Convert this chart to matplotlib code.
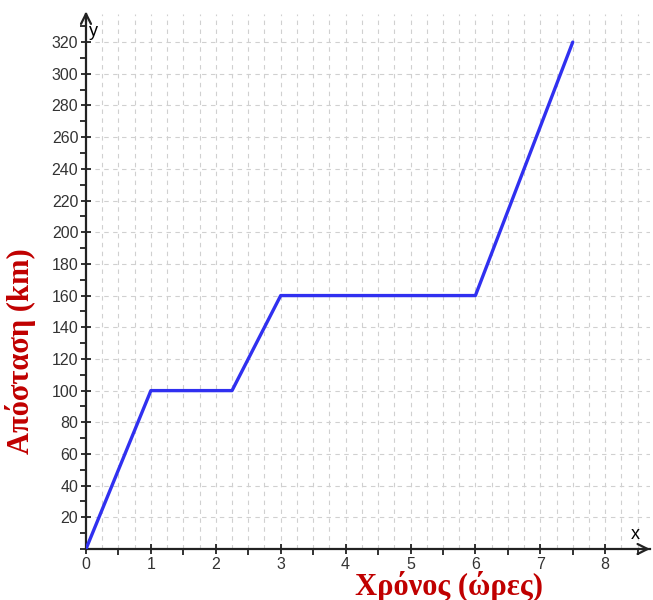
import numpy as np
import matplotlib.pyplot as plt
from matplotlib.ticker import MultipleLocator

# time (hours) and distance (km) at the corners of the trip
hours = [0, 1, 2.25, 3, 6, 7.5]
distance = [0, 100, 100, 160, 160, 320]

x_ticks = [0, 1, 2, 3, 4, 5, 6, 7, 8]
y_ticks = list(range(20, 321, 20))

fig = plt.figure(figsize=(6.53, 6.0), dpi=100)
ax = fig.add_axes([86 / 653, 1 - 549 / 600, (650 - 86) / 653, (549 - 14) / 600])

ax.set_xlim(0, (650 - 86) / 64.9)
ax.set_ylim(0, (549 - 14) / 1.584)

# dashed grid: verticals every quarter hour, horizontals every 20 km
for gx in np.arange(0.25, 8.75, 0.25):
    ax.axvline(gx, color="#d0d0d0", lw=0.8, ls=(0, (4, 4)), zorder=0)
for gy in y_ticks:
    ax.axhline(gy, color="#d0d0d0", lw=0.8, ls=(0, (4, 4)), zorder=0)

ax.plot(hours, distance, color="#3030f0", lw=2.4, solid_capstyle="round", zorder=3)

for side in ["top", "right"]:
    ax.spines[side].set_visible(False)
for side in ["left", "bottom"]:
    ax.spines[side].set_linewidth(1.6)
    ax.spines[side].set_color("#222222")

# arrow heads on the axes
ax.annotate("", xy=(1.005, 0), xytext=(0.98, 0), xycoords="axes fraction",
            arrowprops=dict(arrowstyle="->", lw=1.6, color="#222222", mutation_scale=18),
            annotation_clip=False)
ax.annotate("", xy=(0, 1.01), xytext=(0, 0.98), xycoords="axes fraction",
            arrowprops=dict(arrowstyle="->", lw=1.6, color="#222222", mutation_scale=18),
            annotation_clip=False)
ax.text(8.47, 4, "x", fontsize=13, family="Liberation Sans", va="bottom", ha="center")
ax.text(0.05, 327, "y", fontsize=13, family="Liberation Sans", va="center", ha="left")

ax.set_xticks(x_ticks)
ax.set_xticklabels([str(v) for v in x_ticks])
ax.xaxis.set_minor_locator(MultipleLocator(0.5))
ax.set_yticks(y_ticks)
ax.set_yticklabels([str(v) for v in y_ticks])
ax.yaxis.set_minor_locator(MultipleLocator(10))
ax.tick_params(which="major", direction="inout", length=7, width=1.3, colors="#222222",
               labelsize=11.5, pad=2)
ax.tick_params(which="minor", direction="out", length=4, width=1.3, colors="#222222")
for lab in ax.get_xticklabels() + ax.get_yticklabels():
    lab.set_family("Liberation Sans")
    lab.set_color("#333333")

fig.text(449 / 653, 1 - 586 / 600, "Χρόνος (ώρες)", color="#c00000", fontsize=22,
         fontweight="bold", family="Liberation Serif", ha="center", va="center")
fig.text(21 / 653, 1 - 351 / 600, "Απόσταση (km)", color="#c00000", fontsize=22,
         fontweight="bold", family="Liberation Serif", ha="center", va="center",
         rotation=90)

fig.savefig("out.png", dpi=100)
